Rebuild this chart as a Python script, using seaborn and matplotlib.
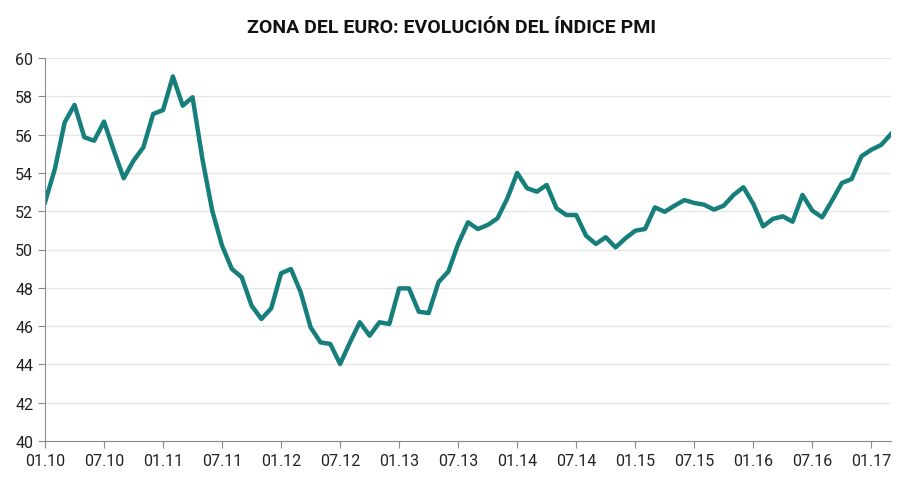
import matplotlib
matplotlib.use("Agg")
import matplotlib.pyplot as plt
import seaborn as sns
import pandas as pd

pmi = [52.46, 54.2, 56.64, 57.55, 55.86, 55.68, 56.68, 55.16, 53.72, 54.64, 55.34, 57.08,
       57.28, 59.04, 57.51, 57.95, 54.73, 52.03, 50.2, 48.98, 48.55, 47.07, 46.37, 46.93,
       48.76, 48.98, 47.76, 45.94, 45.15, 45.07, 44.02, 45.15, 46.2, 45.5, 46.2, 46.11,
       47.97, 47.97, 46.75, 46.68, 48.29, 48.85, 50.29, 51.42, 51.07, 51.28, 51.63, 52.67,
       54.0, 53.2, 53.02, 53.37, 52.15, 51.8, 51.8, 50.72, 50.29, 50.64, 50.11, 50.58,
       50.98, 51.07, 52.2, 51.97, 52.29, 52.58, 52.43, 52.34, 52.08, 52.29, 52.85, 53.25,
       52.38, 51.21, 51.6, 51.73, 51.45, 52.85, 52.03, 51.68, 52.55, 53.47, 53.68, 54.87,
       55.21, 55.46, 56.03]
tick_labels = ["01.10", "07.10", "01.11", "07.11", "01.12", "07.12", "01.13", "07.13",
               "01.14", "07.14", "01.15", "07.15", "01.16", "07.16", "01.17"]
yticks = list(range(40, 61, 2))

df = pd.DataFrame({"t": range(len(pmi)), "pmi": pmi})

fig = plt.figure(figsize=(9.04, 4.89), dpi=100)
ax = fig.add_axes([45/904, 1-442/489, (891-45)/904, (442-59)/489])
sns.lineplot(data=df, x="t", y="pmi", ax=ax, color="#177f7b", linewidth=3.2)
ax.set_xlim(0, len(pmi)-1)
ax.set_ylim(40, 60)
ax.set_yticks(yticks)
ax.set_xticks(range(0, 6*len(tick_labels), 6))
ax.set_xticklabels(tick_labels)
ax.set_xlabel(""); ax.set_ylabel("")
ax.grid(axis="y", color="#e6e6e6", linewidth=1)
ax.set_axisbelow(True)
for s in ["top", "right"]:
    ax.spines[s].set_visible(False)
for s in ["left", "bottom"]:
    ax.spines[s].set_color("#8c8c8c")
ax.tick_params(axis="both", colors="#8c8c8c", labelcolor="#222222", labelsize=11.5, length=5)
for lab in ax.get_xticklabels() + ax.get_yticklabels():
    lab.set_fontfamily("Roboto")
fig.text(0.5, 1-28/489, "ZONA DEL EURO: EVOLUCIÓN DEL ÍNDICE PMI", ha="center", va="center",
         fontsize=14, fontweight="bold", fontfamily="Roboto", color="#111111")
fig.savefig("out.png", dpi=100)
